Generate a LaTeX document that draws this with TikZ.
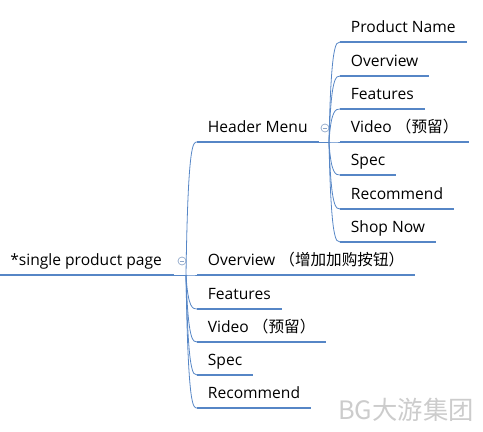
\documentclass[tikz,border=0pt]{standalone}
\usepackage{fontspec}
\setmainfont{Open Sans}
\newfontfamily\cjk{Noto Sans CJK SC}
\usepackage{xcolor}
\usetikzlibrary{positioning}
\definecolor{mapblue}{RGB}{86,134,198}
\definecolor{togglegray}{RGB}{140,165,200}
\tikzset{
  topic/.style={anchor=south west, inner xsep=8pt, inner ysep=0pt,
    text depth=6.75pt, font=\fontsize{11.7}{14}\selectfont, text=black},
  bar/.style={draw=mapblue, line width=2.1pt},
  link/.style={draw=mapblue, line width=0.6pt},
  toggle/.style={circle, draw=togglegray, line width=0.5pt, minimum size=6pt, inner sep=0pt},
}

\begin{document}
\begin{tikzpicture}[x=0.75pt,y=-0.75pt]
  \useasboundingbox (0,0) rectangle (483,432);

  % central topic
  \node[topic, inner xsep=7.5pt] (root) at (0,275) {*single product page};
  \draw[bar] (root.south west) -- ([xshift=1.5pt]root.south east);
  \node[toggle] (roottog) at (182,261) {};
  \draw[togglegray, line width=0.4pt] ([xshift=-1.6pt]roottog.center) -- ([xshift=1.6pt]roottog.center);
  \coordinate (rootfork) at (186,275);
  \draw[link] (root.south east) -- (rootfork);

  % main branches
  \node[topic] (header) at (197,142) {Header Menu};
  \node[topic] (overview) at (197,275) {Overview {\cjk （增加加购按钮）}};
  \node[topic] (features) at (197,309) {Features};
  \node[topic] (video) at (197,342) {Video {\cjk （预留）}};
  \node[topic] (spec) at (197,375) {Spec};
  \node[topic] (recommend) at (197,408) {Recommend};
  \foreach \n in {header,overview,features,video,spec,recommend}{
    \draw[bar] (\n.south west) -- (\n.south east);
    \draw[link] (rootfork) .. controls ([xshift=1.5pt]rootfork |- \n.south west)
      and ([xshift=-3pt]\n.south west) .. (\n.south west);
  }

  % header menu sub-topics
  \node[toggle] (headtog) at (325,128) {};
  \draw[togglegray, line width=0.4pt] ([xshift=-1.6pt]headtog.center) -- ([xshift=1.6pt]headtog.center);
  \coordinate (headfork) at (329,142);
  \draw[link] (header.south east) -- (headfork);
  \node[topic] (hname) at (340,42) {Product Name};
  \node[topic] (hover) at (340,76) {Overview};
  \node[topic] (hfeat) at (340,109) {Features};
  \node[topic] (hvideo) at (340,142) {Video {\cjk （预留）}};
  \node[topic] (hspec) at (340,175) {Spec};
  \node[topic] (hrec) at (340,209) {Recommend};
  \node[topic] (hshop) at (340,242) {Shop Now};
  \foreach \n in {hname,hover,hfeat,hvideo,hspec,hrec,hshop}{
    \draw[bar] (\n.south west) -- (\n.south east);
    \draw[link] (headfork) .. controls ([xshift=1.5pt]headfork |- \n.south west)
      and ([xshift=-3pt]\n.south west) .. (\n.south west);
  }

  % watermark
  \node[anchor=west, inner sep=0pt, text=gray!40, font=\cjk\fontsize{19}{19}\selectfont] (mark) at (338,410) {BG大游集团};
\end{tikzpicture}
\end{document}
